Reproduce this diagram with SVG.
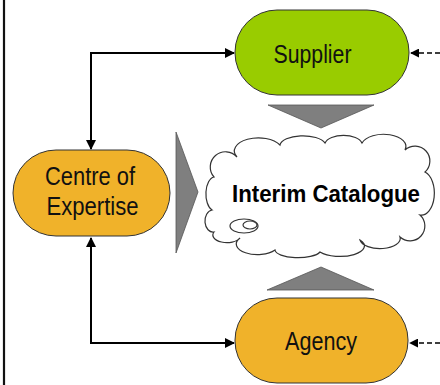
<svg xmlns="http://www.w3.org/2000/svg" width="440" height="385" viewBox="0 0 440 385">
  <defs>
    <marker id="arr" viewBox="0 0 10 10" refX="9" refY="5" markerWidth="10" markerHeight="10" markerUnits="userSpaceOnUse" orient="auto-start-reverse">
      <path d="M0,0 L10,5 L0,10 z" fill="#000"/>
    </marker>
    <marker id="arrs" viewBox="0 0 10 10" refX="9" refY="5" markerWidth="9" markerHeight="9" markerUnits="userSpaceOnUse" orient="auto">
      <path d="M0,0 L10,5 L0,10 z" fill="#000"/>
    </marker>
  </defs>
  <style>
    .pill { stroke: #333; stroke-width: 1; }
    .lbl { font-family: "Liberation Sans", Arial, sans-serif; font-size: 25px; fill: #111; text-anchor: middle; }
    .tri { fill: #7f7f7f; stroke: #555; stroke-width: 0.8; }
    .conn { fill: none; stroke: #000; stroke-width: 2; }
    .dash { fill: none; stroke: #000; stroke-width: 1.3; stroke-dasharray: 5 3; }
  </style>
  <rect width="440" height="385" fill="#fff"/>
  <line x1="4" y1="0" x2="4" y2="385" stroke="#111" stroke-width="2.2"/>

  <g id="connectors">
    <path class="conn" d="M91,149 L91,53 L234,53" marker-start="url(#arr)" marker-end="url(#arr)"/>
    <path class="conn" d="M91,238 L91,343 L234,343" marker-start="url(#arr)" marker-end="url(#arr)"/>
    <path class="dash" d="M440,53 L411,53" marker-end="url(#arrs)"/>
    <path class="dash" d="M440,343 L410,343" marker-end="url(#arrs)"/>
    <polygon class="tri" points="268,105 374,105 321,128"/>
    <polygon class="tri" points="267,290 374,290 321,267"/>
    <polygon class="tri" points="176,132 176,253 198,192"/>
  </g>

  <g id="supplier">
    <rect class="pill" x="235" y="10" width="174" height="85" rx="42" ry="42" fill="#99cc00"/>
    <text class="lbl" x="312.5" y="63" textLength="78" lengthAdjust="spacingAndGlyphs">Supplier</text>
  </g>

  <g id="centre">
    <rect class="pill" x="13" y="150" width="157" height="86" rx="43" ry="43" fill="#f0b22a"/>
    <text class="lbl" x="90" y="185" textLength="90" lengthAdjust="spacingAndGlyphs">Centre of</text>
    <text class="lbl" x="92.5" y="215" textLength="92" lengthAdjust="spacingAndGlyphs">Expertise</text>
  </g>

  <g id="agency">
    <rect class="pill" x="235" y="298" width="173" height="85" rx="42" ry="42" fill="#f0b22a"/>
    <text class="lbl" x="321" y="350" textLength="72" lengthAdjust="spacingAndGlyphs">Agency</text>
  </g>

  <g id="catalogue">
    <path d="M212,210 A9,17 0 0 1 214,177 A15,15 0 0 1 237,157 A22,12 0 0 1 280,145 A23,10 0 0 1 325,143 A19,10 0 0 1 362,143 A22,12 0 0 1 405,150 A14,14 0 0 1 425,172 A13,22 0 0 1 420,215 A13,13 0 0 1 400,237 A20,10 0 0 1 360,240 A21,9 0 0 1 320,252 A23,8 0 0 1 275,250 A18,9 0 0 1 240,238 A13,7 0 0 1 214,232 A8,11 0 0 1 212,210 Z" fill="#fff" stroke="#333" stroke-width="1.2"/>
    <ellipse cx="244" cy="226" rx="14" ry="7" fill="#fff" stroke="#333" stroke-width="1.2"/>
    <ellipse cx="250" cy="225" rx="7" ry="4" fill="#fff" stroke="#333" stroke-width="1.2"/>
    <text x="326" y="202" font-family="Liberation Sans, Arial, sans-serif" font-size="23" font-weight="bold" fill="#000" text-anchor="middle" textLength="188" lengthAdjust="spacingAndGlyphs">Interim Catalogue</text>
  </g>
</svg>
